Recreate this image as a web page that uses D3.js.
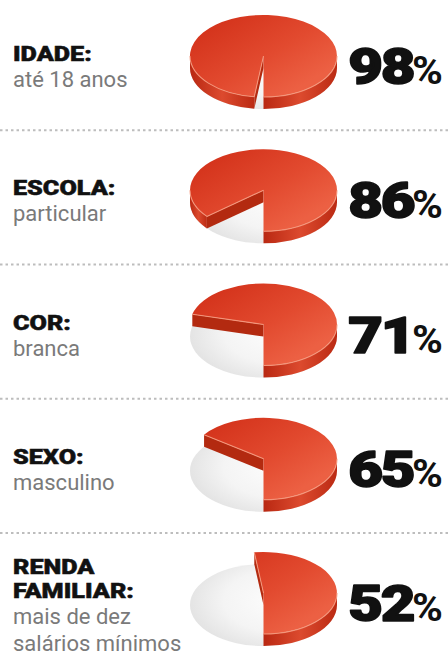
<!DOCTYPE html>
<html>
<head>
<meta charset="utf-8">
<script src="https://cdn.jsdelivr.net/npm/d3@7"></script>
<style>
  html, body { margin: 0; padding: 0; background: #ffffff; }
  svg { display: block; }
</style>
</head>
<body>
<svg id="chart" width="448" height="657"></svg>
<script>
// ---- data ----
const categories = ["IDADE", "ESCOLA", "COR", "SEXO", "RENDA FAMILIAR"];
const labelLines = [["IDADE:"], ["ESCOLA:"], ["COR:"], ["SEXO:"], ["RENDA", "FAMILIAR:"]];
const subLines = [["até 18 anos"], ["particular"], ["branca"], ["masculino"], ["mais de dez", "salários mínimos"]];
const values = [98, 86, 71, 65, 52];
const pctLabels = ["98", "86", "71", "65", "52"];

// ---- layout ----
const W = 448, H = 657;
const svg = d3.select("#chart");
const defs = svg.append("defs");

const rowY = d3.scaleLinear().domain([0, categories.length - 1]).range([56, 593]);
const cx = 263.5, rx = 73.5, ry = 41, depth = 12;

const pie = d3.pie().sort(null).startAngle(Math.PI).endAngle(3 * Math.PI);

function pt(theta, cy) { return [cx + rx * Math.sin(theta), cy - ry * Math.cos(theta)]; }
function f(p) { return p[0].toFixed(2) + "," + p[1].toFixed(2); }

// separators
for (let i = 0; i < categories.length - 1; i++) {
  const y = (rowY(i) + rowY(i + 1)) / 2 + 7;
  svg.append("line").attr("x1", 0).attr("x2", W).attr("y1", y).attr("y2", y)
    .attr("stroke", "#bdbdbd").attr("stroke-width", 2).attr("stroke-dasharray", "2.5,3");
}

// floor gradient
const fg = defs.append("radialGradient").attr("id", "floorGrad")
  .attr("cx", "0.62").attr("cy", "0.45").attr("r", "0.65");
fg.append("stop").attr("offset", "0").attr("stop-color", "#fdfdfd");
fg.append("stop").attr("offset", "0.6").attr("stop-color", "#f4f4f4");
fg.append("stop").attr("offset", "1").attr("stop-color", "#e2e2e2");

const sg = defs.append("linearGradient").attr("id", "sideGrad")
  .attr("x1", "0").attr("x2", "1").attr("y1", "0").attr("y2", "0");
sg.append("stop").attr("offset", "0").attr("stop-color", "#b92812");
sg.append("stop").attr("offset", "0.5").attr("stop-color", "#dc4a2e");
sg.append("stop").attr("offset", "1").attr("stop-color", "#bb2a13");

values.forEach((v, i) => {
  const cy = rowY(i);
  const g = svg.append("g").attr("class", "pie");
  const arcs = pie([100 - v, v]);
  const red = arcs[1];
  const a0 = red.startAngle, a1 = red.endAngle;

  // top gradient per pie
  const tg = defs.append("linearGradient").attr("id", "topGrad" + i)
    .attr("gradientUnits", "userSpaceOnUse")
    .attr("x1", cx - 30).attr("y1", cy - ry).attr("x2", cx + 20).attr("y2", cy + ry);
  tg.append("stop").attr("offset", "0").attr("stop-color", "#d5351d");
  tg.append("stop").attr("offset", "0.55").attr("stop-color", "#e24a2f");
  tg.append("stop").attr("offset", "1").attr("stop-color", "#ec6043");

  // floor (the empty part)
  g.append("ellipse").attr("cx", cx).attr("cy", cy + depth).attr("rx", rx).attr("ry", ry)
    .attr("fill", "url(#floorGrad)");

  const c = [cx, cy], cB = [cx, cy + depth];
  const down = p => [p[0], p[1] + depth];

  // radial face at start angle
  if (Math.sin(a0) < 0) {
    const p = pt(a0, cy);
    g.append("path")
      .attr("d", `M${f(c)}L${f(p)}L${f(down(p))}L${f(cB)}Z`)
      .attr("fill", "#b32a10");
  }

  // outer front walls
  const fronts = [[Math.PI / 2, 3 * Math.PI / 2], [5 * Math.PI / 2, 7 * Math.PI / 2]];
  const wallSegs = [];
  fronts.forEach(([s, e]) => {
    const t0 = Math.max(s, a0), t1 = Math.min(e, a1);
    if (t1 > t0) {
      wallSegs.push([t0, t1]);
      const p0 = pt(t0, cy), p1 = pt(t1, cy);
      const large = (t1 - t0) > Math.PI ? 1 : 0;
      g.append("path")
        .attr("d", `M${f(p0)}A${rx},${ry} 0 ${large} 1 ${f(p1)}L${f(down(p1))}A${rx},${ry} 0 ${large} 0 ${f(down(p0))}Z`)
        .attr("fill", "url(#sideGrad)");
    }
  });

  // top face
  const p0 = pt(a0, cy), p1 = pt(a1, cy);
  const largeTop = (a1 - a0) > Math.PI ? 1 : 0;
  g.append("path")
    .attr("d", `M${f(c)}L${f(p0)}A${rx},${ry} 0 ${largeTop} 1 ${f(p1)}Z`)
    .attr("fill", `url(#topGrad${i})`);

  // rim highlights
  let rim = `M${f(p0)}L${f(c)}`;
  wallSegs.forEach(([t0, t1]) => {
    const q0 = pt(t0, cy), q1 = pt(t1, cy);
    rim += `M${f(q0)}A${rx},${ry} 0 0 1 ${f(q1)}`;
  });
  g.append("path").attr("d", rim).attr("fill", "none")
    .attr("stroke", "#f59a80").attr("stroke-width", 1.1).attr("stroke-opacity", 0.9);

  // labels
  const nL = labelLines[i].length;
  const y0 = cy + 5 - 24 * (nL - 1);
  labelLines[i].forEach((t, j) => {
    svg.append("text")
      .attr("transform", `translate(13,${y0 + 24 * j}) scale(1.2,1)`)
      .attr("font-family", "Roboto, 'Liberation Sans', sans-serif")
      .attr("font-weight", 900).attr("font-size", 21).attr("fill", "#111")
      .attr("stroke", "#111").attr("stroke-width", 0.5)
      .text(t);
  });
  const ys = y0 + 24 * (nL - 1) + 26;
  subLines[i].forEach((t, j) => {
    svg.append("text")
      .attr("x", 13).attr("y", ys + 27 * j)
      .attr("font-family", "Roboto, 'Liberation Sans', sans-serif")
      .attr("font-weight", 400).attr("font-size", 22).attr("fill", "#7a7a7a")
      .text(t);
  });

  // percentage
  const py = cy + 28;
  const pctSign = svg.append("text")
    .attr("transform", `translate(443,${py}) scale(1.1,1)`)
    .attr("text-anchor", "end")
    .attr("font-family", "Roboto, 'Liberation Sans', sans-serif")
    .attr("font-weight", 700).attr("font-size", 38).attr("fill", "#111")
    .text("%");
  const w = pctSign.node().getComputedTextLength() * 1.1;
  svg.append("text")
    .attr("transform", `translate(${443 - w + 1},${py}) scale(1.2,1)`)
    .attr("text-anchor", "end")
    .attr("font-family", "Roboto, 'Liberation Sans', sans-serif")
    .attr("font-weight", 900).attr("font-size", 50).attr("fill", "#111")
    .attr("stroke", "#111").attr("stroke-width", 1.6).attr("stroke-linejoin", "round")
    .attr("letter-spacing", -2)
    .text(pctLabels[i]);
});
</script>
</body>
</html>
